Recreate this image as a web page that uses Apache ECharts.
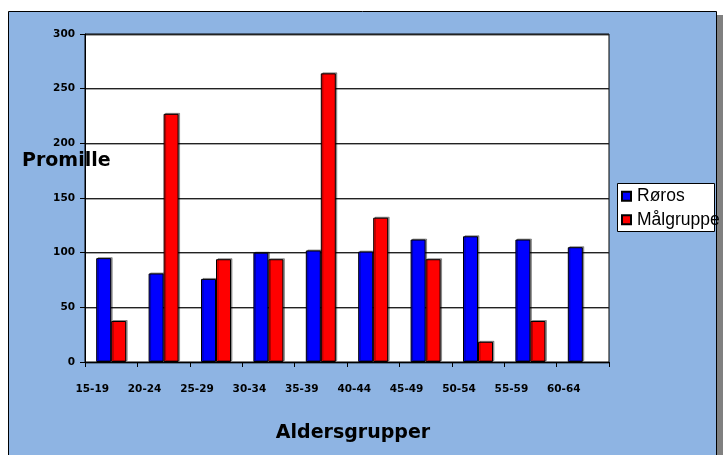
<!DOCTYPE html>
<html>
<head>
<meta charset="utf-8">
<script src="https://cdn.jsdelivr.net/npm/echarts@6/dist/echarts.min.js"></script>
<style>
html,body{margin:0;padding:0;background:#fff;}
#chart{width:723px;height:455px;}
</style>
</head>
<body>
<div id="chart"></div>
<script>
var categories = ['15-19','20-24','25-29','30-34','35-39','40-44','45-49','50-54','55-59','60-64'];
var roros = [95, 81, 76, 100, 102, 101, 112, 115, 112, 105];
var malgruppe = [37.5, 227, 94, 94, 264, 132, 94, 18.5, 37.5, null];
var yTicks = {min: 0, max: 300, interval: 50};

var chart = echarts.init(document.getElementById('chart'), null, {renderer: 'canvas'});
var boldFont = 'DejaVu Sans';
chart.setOption({
  backgroundColor: '#ffffff',
  animation: false,
  graphic: [
    {type: 'rect', z: -100, shape: {x: 12, y: 15, width: 711, height: 450}, style: {fill: '#808080'}},
    {type: 'rect', z: -99, shape: {x: 8.5, y: 11.5, width: 708, height: 450}, style: {fill: '#8EB4E3', stroke: '#000', lineWidth: 1}},
    {type: 'rect', z: -98, shape: {x: 617.5, y: 183.5, width: 97, height: 48}, style: {fill: '#fff', stroke: '#000', lineWidth: 1}},
    {type: 'text', z: 10, x: 22, y: 161.5, style: {text: 'Promille', fontFamily: boldFont, fontWeight: 'bold', fontSize: 19, fill: '#000', textAlign: 'left', textVerticalAlign: 'middle'}},
    {type: 'text', z: 10, x: 353, y: 433.5, style: {text: 'Aldersgrupper', fontFamily: boldFont, fontWeight: 'bold', fontSize: 19, fill: '#000', textAlign: 'center', textVerticalAlign: 'middle'}}
  ],
  legend: {
    orient: 'vertical',
    left: 621,
    top: 187,
    padding: 0,
    itemWidth: 9,
    itemHeight: 9,
    itemGap: 5,
    icon: 'rect',
    textStyle: {fontFamily: 'Liberation Sans', fontSize: 17.5, color: '#000', lineHeight: 18.5, padding: [0, 0, 0, 1]},
    data: ['Røros', 'Målgruppe']
  },
  grid: {
    left: 85, top: 34, width: 524, height: 328,
    show: true, backgroundColor: '#ffffff', borderColor: '#000', borderWidth: 1,
    containLabel: false
  },
  xAxis: {
    type: 'category',
    data: categories,
    boundaryGap: true,
    axisLine: {lineStyle: {color: '#000', width: 1}},
    axisTick: {show: true, length: 5, inside: false, lineStyle: {color: '#000'}},
    axisLabel: {fontFamily: boldFont, fontWeight: 'bold', fontSize: 10.5, color: '#000', margin: 22, padding: [0, 38, 0, 0], interval: 0}
  },
  yAxis: {
    type: 'value',
    min: yTicks.min, max: yTicks.max, interval: yTicks.interval,
    axisLine: {show: true, lineStyle: {color: '#000', width: 1}},
    axisTick: {show: true, length: 5, lineStyle: {color: '#000'}},
    axisLabel: {fontFamily: boldFont, fontWeight: 'bold', fontSize: 10.5, color: '#000', margin: 10},
    splitLine: {show: true, lineStyle: {color: '#222', width: 1, shadowColor: 'rgba(0,0,0,0.35)', shadowOffsetY: 1}}
  },
  series: [
    {
      name: 'Røros', type: 'bar', data: roros, barWidth: 15, barGap: '0%',
      itemStyle: {color: '#0000FF', borderColor: '#000', borderWidth: 1, shadowColor: 'rgba(0,0,0,0.35)', shadowOffsetX: 1.5, shadowOffsetY: -1}
    },
    {
      name: 'Målgruppe', type: 'bar', data: malgruppe, barWidth: 15, barGap: '0%',
      itemStyle: {color: '#FF0000', borderColor: '#000', borderWidth: 1, shadowColor: 'rgba(0,0,0,0.35)', shadowOffsetX: 1.5, shadowOffsetY: -1}
    }
  ]
});
</script>
</body>
</html>
